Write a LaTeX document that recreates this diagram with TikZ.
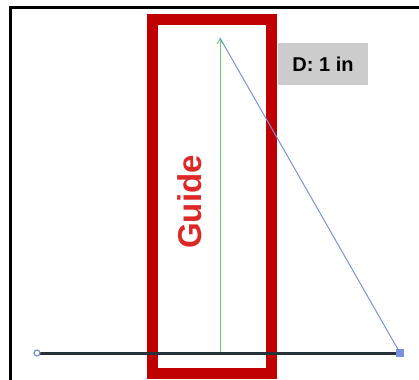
\documentclass[tikz,border=0pt]{standalone}
\usepackage{fontspec}
\setmainfont{Liberation Sans}
\usetikzlibrary{positioning,arrows.meta}
\definecolor{guidered}{RGB}{192,0,0}
\definecolor{guidetext}{RGB}{222,40,40}
\definecolor{measgreen}{RGB}{110,205,110}
\definecolor{measblue}{RGB}{120,145,220}
\definecolor{baseblack}{RGB}{40,48,58}
\definecolor{tagfill}{RGB}{204,204,204}
\tikzset{
  endpt/.style={inner sep=0pt, outer sep=0pt, minimum size=0pt},
  tag/.style={fill=tagfill, text=black, font=\bfseries\fontsize{20}{20}\selectfont,
    minimum width=90pt, minimum height=42pt, inner sep=0pt}
}
\begin{document}
\begin{tikzpicture}[x=1pt,y=-1pt]
  \useasboundingbox (0,0) rectangle (419,379);
  \clip (0,0) rectangle (419,379);
  % FRAME
  \draw[line width=3pt] (10.5,400) -- (10.5,8) -- (430,8);

  % GUIDE
  \draw[guidered, line width=11pt] (152.5,19.5) rectangle (271.5,373);
  \node[text=guidetext, rotate=90, font=\bfseries\fontsize{33}{33}\selectfont]
    (guide) at (190,202) {Guide};

  % POINTS
  \node[endpt] (left)  at (37,353)  {};
  \node[endpt] (right) at (400,353) {};
  \node[endpt] (foot)  at (220,353) {};
  \node[endpt] (apex)  at (220,38)  {};

  % LINES
  \draw[measgreen, line width=1pt, -{Straight Barb[length=5pt,width=6pt]}] (foot) -- (apex);
  \draw[baseblack, line width=3pt] (left) -- (right);
  \draw[measblue, line width=1pt] (apex) -- (right);
  \draw[measblue, line width=1.2pt, fill=white] (left) circle (3pt);
  \fill[measblue] (right) +(-4,-4) rectangle +(4,4);

  % LABEL
  \node[tag] (dist) at (323,64) {D: 1 in};
\end{tikzpicture}
\end{document}
